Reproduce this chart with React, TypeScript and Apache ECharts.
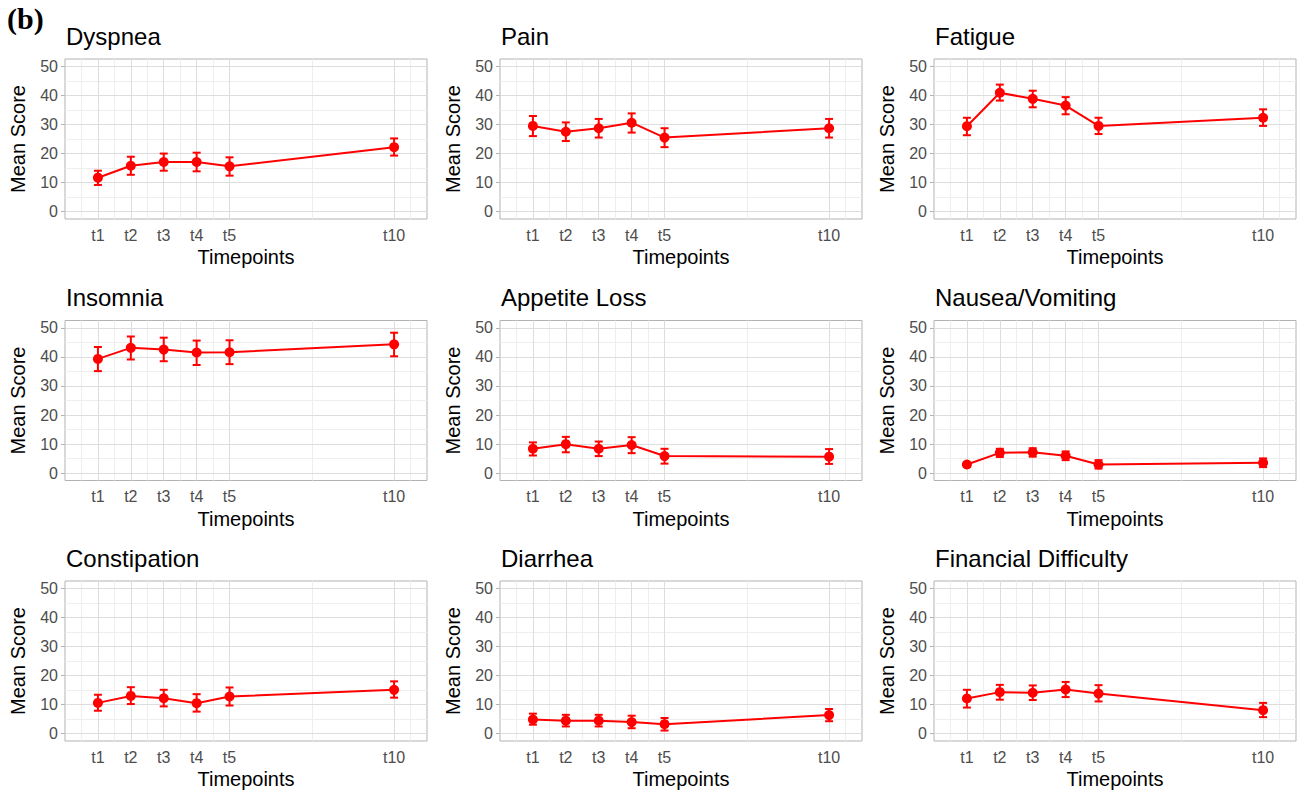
import { useEffect, useRef } from 'react';
import * as echarts from 'echarts';

const FONT = '"Liberation Sans", Arial, Helvetica, sans-serif';

// X positions of timepoints and their labels
const timepointValues = [1, 2, 3, 4, 5, 10];
const timepointLabels = ['t1', 't2', 't3', 't4', 't5', 't10'];
const yTickValues = [0, 10, 20, 30, 40, 50];
const xMinorGrid = [0.5, 1.5, 2.5, 3.5, 4.5, 7.5, 10.5];
const yMinorGrid = [5, 15, 25, 35, 45];

const panelTitles = [
  'Dyspnea', 'Pain', 'Fatigue',
  'Insomnia', 'Appetite Loss', 'Nausea/Vomiting',
  'Constipation', 'Diarrhea', 'Financial Difficulty',
];

// mean scores
const dyspneaMean = [11.7, 15.8, 17.1, 17.1, 15.6, 22.2];
const painMean = [29.5, 27.5, 28.7, 30.6, 25.5, 28.7];
const fatigueMean = [29.4, 40.9, 38.8, 36.5, 29.5, 32.3];
const insomniaMean = [39.3, 43.1, 42.5, 41.5, 41.6, 44.3];
const appetiteMean = [8.4, 10.0, 8.4, 9.7, 5.9, 5.7];
const nauseaMean = [3.0, 7.0, 7.2, 6.0, 3.0, 3.6];
const constipationMean = [10.6, 13.0, 12.2, 10.5, 12.8, 15.1];
const diarrheaMean = [4.9, 4.5, 4.5, 4.0, 3.3, 6.4];
const financialMean = [12.1, 14.3, 14.1, 15.2, 13.8, 8.1];

// error bar lower ends
const dyspneaLow = [9.2, 12.7, 14.1, 13.9, 12.4, 19.3];
const painLow = [26.0, 24.3, 25.5, 27.2, 22.2, 25.5];
const fatigueLow = [26.3, 38.2, 35.9, 33.5, 26.7, 29.5];
const insomniaLow = [35.1, 39.1, 38.5, 37.2, 37.5, 40.2];
const appetiteLow = [6.1, 7.2, 5.9, 6.9, 3.3, 3.2];
const nauseaLow = [2.2, 5.6, 5.7, 4.5, 1.6, 2.1];
const constipationLow = [7.9, 10.2, 9.4, 7.6, 9.7, 12.4];
const diarrheaLow = [3.1, 2.5, 2.5, 1.9, 1.1, 4.3];
const financialLow = [9.0, 11.7, 11.6, 12.6, 11.1, 5.7];

// error bar upper ends
const dyspneaHigh = [14.1, 18.9, 20.0, 20.3, 18.7, 25.2];
const painHigh = [32.9, 30.7, 31.9, 33.8, 28.7, 31.9];
const fatigueHigh = [32.3, 43.7, 41.6, 39.4, 32.3, 35.2];
const insomniaHigh = [43.4, 47.0, 46.6, 45.6, 45.7, 48.3];
const appetiteHigh = [10.6, 12.5, 10.9, 12.4, 8.4, 8.3];
const nauseaHigh = [3.6, 8.4, 8.6, 7.5, 4.5, 5.1];
const constipationHigh = [13.4, 16.0, 15.1, 13.6, 15.9, 18.0];
const diarrheaHigh = [6.9, 6.5, 6.5, 6.2, 5.4, 8.5];
const financialHigh = [15.1, 16.8, 16.6, 17.8, 16.7, 10.6];

const means = [dyspneaMean, painMean, fatigueMean, insomniaMean, appetiteMean, nauseaMean, constipationMean, diarrheaMean, financialMean];
const lows = [dyspneaLow, painLow, fatigueLow, insomniaLow, appetiteLow, nauseaLow, constipationLow, diarrheaLow, financialLow];
const highs = [dyspneaHigh, painHigh, fatigueHigh, insomniaHigh, appetiteHigh, nauseaHigh, constipationHigh, diarrheaHigh, financialHigh];

const COL_LEFT = [65, 500, 934];
const ROW_TOP = [59, 320.5, 581];
const PANEL_W = 362;
const PANEL_H = 160;

const RED = '#FF0000';
const MAJOR = '#DDDDDD';
const MINOR = '#EEEEEE';

export default function App() {
  const ref = useRef<HTMLDivElement>(null);

  useEffect(() => {
    if (!ref.current) return;
    const chart = echarts.init(ref.current, null, { renderer: 'svg' });

    const grids: any[] = [];
    const xAxes: any[] = [];
    const yAxes: any[] = [];
    const series: any[] = [];
    const graphics: any[] = [];

    panelTitles.forEach((title, i) => {
      const col = i % 3;
      const row = Math.floor(i / 3);
      const left = COL_LEFT[col];
      const top = ROW_TOP[row];

      grids.push({
        left, top, width: PANEL_W, height: PANEL_H,
        show: true, borderColor: '#B3B3B3', borderWidth: 1,
        backgroundColor: '#FFFFFF',
        containLabel: false, outerBoundsMode: 'none',
      });

      xAxes.push({
        type: 'value', gridIndex: i, min: 0, max: 11,
        axisLine: { show: false },
        splitLine: { show: false },
        axisTick: { show: true, customValues: timepointValues, length: 4, lineStyle: { color: '#B3B3B3', width: 1 } },
        axisLabel: {
          customValues: timepointValues,
          formatter: (v: number) => timepointLabels[timepointValues.indexOf(v)] ?? '',
          color: '#4D4D4D', fontSize: 16, fontFamily: FONT, margin: 8,
        },
        name: 'Timepoints', nameLocation: 'middle', nameGap: 28,
        nameTextStyle: { color: '#000000', fontSize: 20, fontFamily: FONT },
      });

      yAxes.push({
        type: 'value', gridIndex: i, min: -2.5, max: 52.5,
        axisLine: { show: false },
        splitLine: { show: false },
        axisTick: { show: true, customValues: yTickValues, length: 4, lineStyle: { color: '#B3B3B3', width: 1 } },
        axisLabel: {
          customValues: yTickValues,
          color: '#4D4D4D', fontSize: 16, fontFamily: FONT, margin: 7,
        },
        name: 'Mean Score', nameLocation: 'middle', nameGap: 37, nameRotate: 90,
        nameTextStyle: { color: '#000000', fontSize: 20, fontFamily: FONT },
      });

      // grid lines via markLine (kept beneath the data)
      const lineData: any[] = [];
      xMinorGrid.forEach((v) => lineData.push({ xAxis: v, lineStyle: { color: MINOR, width: 1, type: 'solid' } }));
      yMinorGrid.forEach((v) => lineData.push({ yAxis: v, lineStyle: { color: MINOR, width: 1, type: 'solid' } }));
      timepointValues.forEach((v) => lineData.push({ xAxis: v, lineStyle: { color: MAJOR, width: 1, type: 'solid' } }));
      yTickValues.forEach((v) => lineData.push({ yAxis: v, lineStyle: { color: MAJOR, width: 1, type: 'solid' } }));

      series.push({
        type: 'line', xAxisIndex: i, yAxisIndex: i, data: [], z: 1, silent: true,
        markLine: {
          z: 1, zlevel: 0,
          silent: true, symbol: ['none', 'none'], label: { show: false },
          emphasis: { disabled: true }, animation: false,
          data: lineData,
        },
      });

      series.push({
        type: 'custom', xAxisIndex: i, yAxisIndex: i, z: 6,
        data: timepointValues.map((x, j) => [x, lows[i][j], highs[i][j]]),
        encode: { x: 0, y: [1, 2] },
        renderItem: (_params: any, api: any) => {
          const x = api.value(0);
          const lo = api.coord([x, api.value(1)]);
          const hi = api.coord([x, api.value(2)]);
          const hw = 4;
          const st = { stroke: RED, lineWidth: 2 };
          return {
            type: 'group',
            children: [
              { type: 'line', shape: { x1: lo[0], y1: lo[1], x2: hi[0], y2: hi[1] }, style: st },
              { type: 'line', shape: { x1: hi[0] - hw, y1: hi[1], x2: hi[0] + hw, y2: hi[1] }, style: st },
              { type: 'line', shape: { x1: lo[0] - hw, y1: lo[1], x2: lo[0] + hw, y2: lo[1] }, style: st },
            ],
          };
        },
      });

      series.push({
        type: 'line', xAxisIndex: i, yAxisIndex: i, z: 7,
        data: timepointValues.map((x, j) => [x, means[i][j]]),
        symbol: 'circle', symbolSize: 10,
        itemStyle: { color: RED, borderWidth: 0 },
        lineStyle: { color: RED, width: 2 },
      });

      graphics.push({
        type: 'text', left: left + 1, top: top - 35,
        style: { text: title, fontSize: 24, fontFamily: FONT, fill: '#000000' },
      });
    });

    graphics.push({
      type: 'text', left: 7, top: 3,
      style: { text: '(b)', fontSize: 30, fontWeight: 'bold', fontFamily: '"Liberation Serif", "Times New Roman", serif', fill: '#000000' },
    });

    chart.setOption({
      animation: false,
      backgroundColor: '#FFFFFF',
      grid: grids,
      xAxis: xAxes,
      yAxis: yAxes,
      series,
      graphic: graphics,
    });

    return () => chart.dispose();
  }, []);

  return <div ref={ref} style={{ position: 'fixed', left: 0, top: 0, width: 1303, height: 794 }} />;
}
